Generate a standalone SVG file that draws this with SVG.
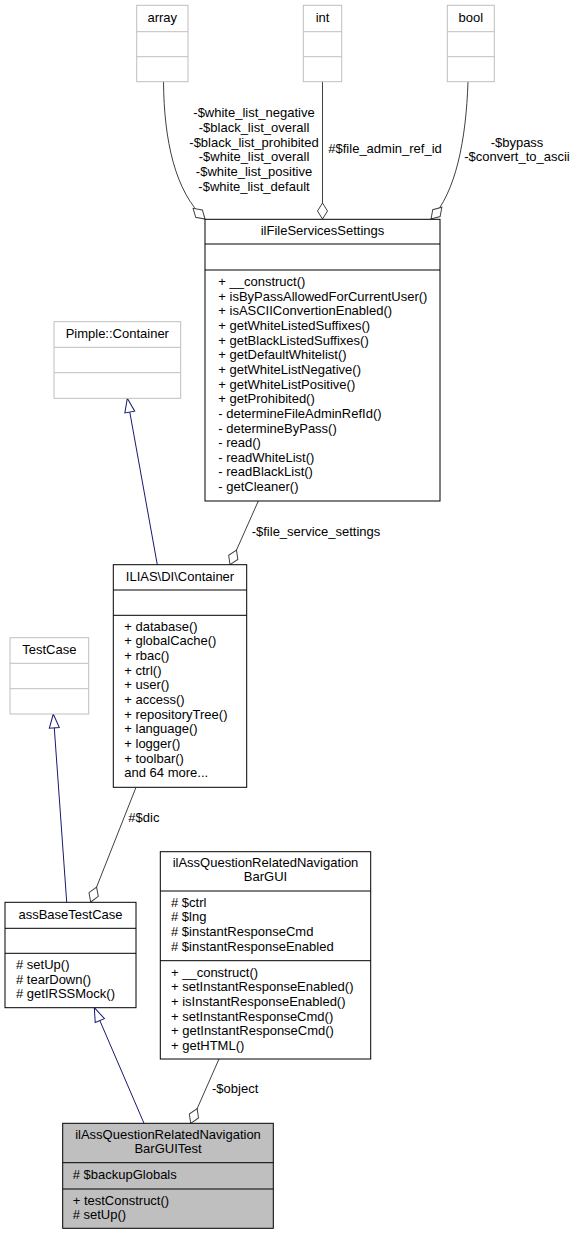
<svg xmlns="http://www.w3.org/2000/svg" width="576" height="1235" viewBox="0 0 576 1235">
<style>
text{font-family:"Liberation Sans",Arial,sans-serif;font-size:13px;fill:#000}
.c{text-anchor:middle}
.box{fill:#fff;stroke:#000;stroke-width:1}
.gbox{fill:#fff;stroke:#bfbfbf;stroke-width:1}
.cur{fill:#bfbfbf;stroke:#000;stroke-width:1}
.sep{stroke:#000;stroke-width:1}
.gsep{stroke:#bfbfbf;stroke-width:1}
.agg{fill:none;stroke:#404040;stroke-width:1;marker-end:url(#dia)}
.inh{fill:none;stroke:#191970;stroke-width:1;marker-end:url(#tri)}
</style>
<defs>
<marker id="dia" markerUnits="userSpaceOnUse" viewBox="-17 -6 18 12" markerWidth="18" markerHeight="12" refX="0" refY="0" orient="auto" overflow="visible">
<path d="M0,0 L-8,-5 L-16,0 L-8,5 Z" fill="#fff" stroke="#404040" stroke-width="1"/>
</marker>
<marker id="tri" markerUnits="userSpaceOnUse" viewBox="-15 -6 16 12" markerWidth="16" markerHeight="12" refX="0" refY="0" orient="auto" overflow="visible">
<path d="M0,0 L-14,-5 L-14,5 Z" fill="#fff" stroke="#191970" stroke-width="1"/>
</marker>
</defs>
<rect width="576" height="1235" fill="#fff"/>

<g id="connectors">
<path class="agg" d="M163.5,82 C164,140 175,192 205,219"/>
<path class="agg" d="M322.5,82 L322.5,219"/>
<path class="agg" d="M468,82 C466,140 456,192 431,219"/>
<path class="inh" d="M157.3,564.7 L127.3,398.3"/>
<path class="agg" d="M258.3,501 L230,564.7"/>
<path class="inh" d="M66.7,902 L53.3,714"/>
<path class="agg" d="M136,787.3 L90.7,902"/>
<path class="inh" d="M144,1123.3 L94.3,1007.7"/>
<path class="agg" d="M219,1059 L190.7,1123.3"/>
<g id="edge-labels">
<text class="c" x="254" y="117.3">-$white_list_negative</text>
<text class="c" x="254" y="132">-$black_list_overall</text>
<text class="c" x="254" y="146.7">-$black_list_prohibited</text>
<text class="c" x="254" y="161.3">-$white_list_overall</text>
<text class="c" x="254" y="176">-$white_list_positive</text>
<text class="c" x="254" y="190.7">-$white_list_default</text>
<text x="328.3" y="153.3">#$file_admin_ref_id</text>
<text class="c" x="517" y="146.7">-$bypass</text>
<text class="c" x="517" y="161.3">-$convert_to_ascii</text>
<text x="251.7" y="536">-$file_service_settings</text>
<text x="128.3" y="821.7">#$dic</text>
<text x="212" y="1093">-$object</text>
</g>
</g>

<g id="node-array">
<rect class="gbox" x="136.7" y="5.3" width="51.3" height="76.4"/>
<line class="gsep" x1="136.7" y1="31.7" x2="188" y2="31.7"/>
<line class="gsep" x1="136.7" y1="56.7" x2="188" y2="56.7"/>
<text class="c" x="162.3" y="21.7">array</text>
</g>

<g id="node-int">
<rect class="gbox" x="303.3" y="5.3" width="38.4" height="76.4"/>
<line class="gsep" x1="303.3" y1="31.7" x2="341.7" y2="31.7"/>
<line class="gsep" x1="303.3" y1="56.7" x2="341.7" y2="56.7"/>
<text class="c" x="322.5" y="21.7">int</text>
</g>

<g id="node-bool">
<rect class="gbox" x="447.3" y="5.3" width="47" height="76.4"/>
<line class="gsep" x1="447.3" y1="31.7" x2="494.3" y2="31.7"/>
<line class="gsep" x1="447.3" y1="56.7" x2="494.3" y2="56.7"/>
<text class="c" x="470.8" y="21.7">bool</text>
</g>

<g id="node-ilFileServicesSettings">
<rect class="box" x="205" y="219.3" width="235" height="281.7"/>
<line class="sep" x1="205" y1="244" x2="440" y2="244"/>
<line class="sep" x1="205" y1="270" x2="440" y2="270"/>
<text class="c" x="322.5" y="235">ilFileServicesSettings</text>
<text x="218.3" y="286">+ __construct()</text>
<text x="218.3" y="300.65">+ isByPassAllowedForCurrentUser()</text>
<text x="218.3" y="315.3">+ isASCIIConvertionEnabled()</text>
<text x="218.3" y="329.95">+ getWhiteListedSuffixes()</text>
<text x="218.3" y="344.6">+ getBlackListedSuffixes()</text>
<text x="218.3" y="359.25">+ getDefaultWhitelist()</text>
<text x="218.3" y="373.9">+ getWhiteListNegative()</text>
<text x="218.3" y="388.55">+ getWhiteListPositive()</text>
<text x="218.3" y="403.2">+ getProhibited()</text>
<text x="218.3" y="417.85">- determineFileAdminRefId()</text>
<text x="218.3" y="432.5">- determineByPass()</text>
<text x="218.3" y="447.15">- read()</text>
<text x="218.3" y="461.8">- readWhiteList()</text>
<text x="218.3" y="476.45">- readBlackList()</text>
<text x="218.3" y="491.1">- getCleaner()</text>
</g>

<g id="node-PimpleContainer">
<rect class="gbox" x="54" y="321.7" width="126.7" height="76.6"/>
<line class="gsep" x1="54" y1="347.3" x2="180.7" y2="347.3"/>
<line class="gsep" x1="54" y1="372.7" x2="180.7" y2="372.7"/>
<text class="c" x="117.3" y="338.3">Pimple::Container</text>
</g>

<g id="node-ILIASDIContainer">
<rect class="box" x="113.3" y="564.7" width="133.4" height="222.6"/>
<line class="sep" x1="113.3" y1="590" x2="246.7" y2="590"/>
<line class="sep" x1="113.3" y1="615.3" x2="246.7" y2="615.3"/>
<text class="c" x="180" y="580.7">ILIAS\DI\Container</text>
<text x="124.3" y="630.7">+ database()</text>
<text x="124.3" y="645.35">+ globalCache()</text>
<text x="124.3" y="660">+ rbac()</text>
<text x="124.3" y="674.65">+ ctrl()</text>
<text x="124.3" y="689.3">+ user()</text>
<text x="124.3" y="703.95">+ access()</text>
<text x="124.3" y="718.6">+ repositoryTree()</text>
<text x="124.3" y="733.25">+ language()</text>
<text x="124.3" y="747.9">+ logger()</text>
<text x="124.3" y="762.55">+ toolbar()</text>
<text x="124.3" y="777.2">and 64 more...</text>
</g>

<g id="node-TestCase">
<rect class="gbox" x="10" y="637.7" width="78.7" height="76.3"/>
<line class="gsep" x1="10" y1="663.3" x2="88.7" y2="663.3"/>
<line class="gsep" x1="10" y1="688.7" x2="88.7" y2="688.7"/>
<text class="c" x="49.3" y="654">TestCase</text>
</g>

<g id="node-assBaseTestCase">
<rect class="box" x="5" y="902.3" width="131" height="105.4"/>
<line class="sep" x1="5" y1="928.3" x2="136" y2="928.3"/>
<line class="sep" x1="5" y1="953.3" x2="136" y2="953.3"/>
<text class="c" x="70.5" y="918.7">assBaseTestCase</text>
<text x="16" y="969">#  setUp()</text>
<text x="16" y="983.65">#  tearDown()</text>
<text x="16" y="998.3">#  getIRSSMock()</text>
</g>

<g id="node-ilAssQuestionRelatedNavigationBarGUI">
<rect class="box" x="160.3" y="851.7" width="210.4" height="207.3"/>
<line class="sep" x1="160.3" y1="891" x2="370.7" y2="891"/>
<line class="sep" x1="160.3" y1="960.7" x2="370.7" y2="960.7"/>
<text class="c" x="265.5" y="866.7">ilAssQuestionRelatedNavigation</text>
<text class="c" x="265.5" y="881">BarGUI</text>
<text x="171" y="906.7"># $ctrl</text>
<text x="171" y="921.35"># $lng</text>
<text x="171" y="936"># $instantResponseCmd</text>
<text x="171" y="950.65"># $instantResponseEnabled</text>
<text x="171" y="976.7">+ __construct()</text>
<text x="171" y="991.35">+ setInstantResponseEnabled()</text>
<text x="171" y="1006">+ isInstantResponseEnabled()</text>
<text x="171" y="1020.65">+ setInstantResponseCmd()</text>
<text x="171" y="1035.3">+ getInstantResponseCmd()</text>
<text x="171" y="1049.95">+ getHTML()</text>
</g>

<g id="node-ilAssQuestionRelatedNavigationBarGUITest">
<rect class="cur" x="62.7" y="1123.3" width="210.6" height="105"/>
<line class="sep" x1="62.7" y1="1162.7" x2="273.3" y2="1162.7"/>
<line class="sep" x1="62.7" y1="1189" x2="273.3" y2="1189"/>
<text class="c" x="168" y="1139">ilAssQuestionRelatedNavigation</text>
<text class="c" x="168" y="1153.3">BarGUITest</text>
<text x="72.7" y="1178.7"># $backupGlobals</text>
<text x="72.7" y="1204.7">+ testConstruct()</text>
<text x="72.7" y="1219"># setUp()</text>
</g>
</svg>
